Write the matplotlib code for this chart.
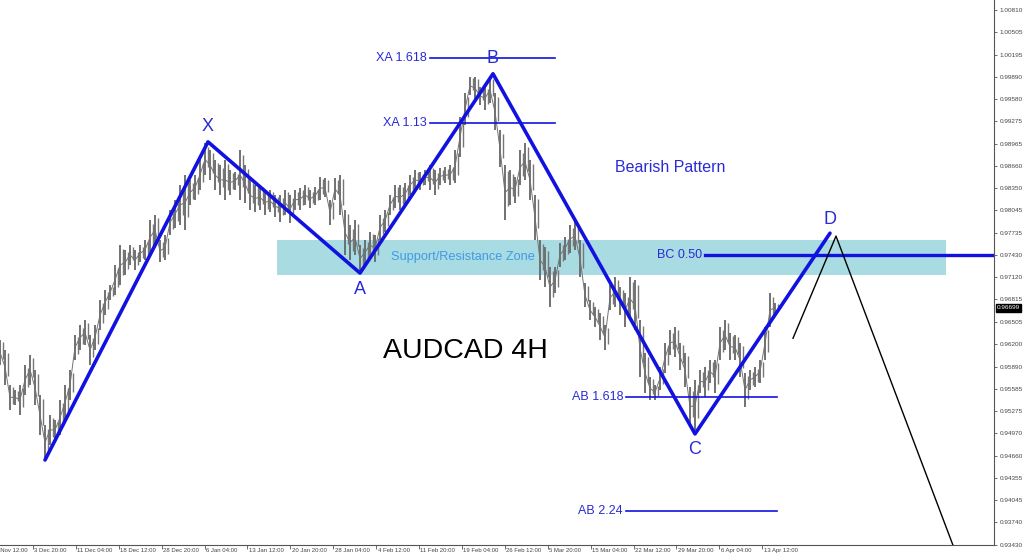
import numpy as np
import matplotlib
matplotlib.use("Agg")
import matplotlib.pyplot as plt
from matplotlib.transforms import blended_transform_factory

# ---------------- data ----------------
highs = [0.9626,0.9612,0.9564,0.9557,0.9564,0.9591,0.9605,0.9584,0.9550,0.9508,
         0.9522,0.9515,0.9543,0.9564,0.9584,0.9633,0.9646,0.9653,0.9633,0.9646,
         0.9681,0.9695,0.9701,0.9729,0.9757,0.9750,0.9757,0.9750,0.9757,0.9764,
         0.9791,0.9798,0.9764,0.9770,0.9805,0.9819,0.9840,0.9853,0.9846,0.9853,
         0.9874,0.9897,0.9888,0.9874,0.9867,0.9874,0.9860,0.9857,0.9888,0.9867,
         0.9846,0.9840,0.9840,0.9833,0.9833,0.9826,0.9826,0.9833,0.9826,0.9833,
         0.9835,0.9840,0.9833,0.9837,0.9851,0.9849,0.9819,0.9849,0.9853,0.9805,
         0.9784,0.9791,0.9757,0.9764,0.9775,0.9770,0.9798,0.9805,0.9826,0.9840,
         0.9840,0.9842,0.9853,0.9860,0.9857,0.9860,0.9867,0.9860,0.9863,0.9864,
         0.9867,0.9888,0.9933,0.9966,0.9989,0.9989,0.9975,0.9975,0.9989,0.9966,
         0.9915,0.9867,0.9860,0.9851,0.9888,0.9897,0.9874,0.9826,0.9764,0.9754,
         0.9726,0.9726,0.9760,0.9768,0.9784,0.9788,0.9764,0.9704,0.9681,0.9671,
         0.9663,0.9646,0.9701,0.9712,0.9699,0.9690,0.9712,0.9708,0.9653,0.9608,
         0.9575,0.9564,0.9588,0.9622,0.9639,0.9644,0.9622,0.9608,0.9561,0.9570,
         0.9584,0.9588,0.9598,0.9598,0.9644,0.9653,0.9635,0.9633,0.9622,0.9580,
         0.9584,0.9588,0.9598,0.9644,0.9690,0.9677]
lows = [0.9591,0.9564,0.9529,0.9536,0.9522,0.9550,0.9564,0.9536,0.9494,0.9460,
        0.9481,0.9488,0.9494,0.9515,0.9543,0.9598,0.9612,0.9619,0.9591,0.9612,
        0.9639,0.9660,0.9681,0.9688,0.9701,0.9715,0.9729,0.9722,0.9733,0.9736,
        0.9743,0.9757,0.9733,0.9736,0.9770,0.9780,0.9784,0.9777,0.9812,0.9819,
        0.9833,0.9853,0.9846,0.9833,0.9826,0.9819,0.9826,0.9833,0.9819,0.9815,
        0.9805,0.9802,0.9805,0.9798,0.9802,0.9795,0.9788,0.9798,0.9787,0.9805,
        0.9805,0.9812,0.9808,0.9812,0.9819,0.9823,0.9784,0.9819,0.9798,0.9743,
        0.9736,0.9743,0.9719,0.9729,0.9739,0.9733,0.9764,0.9775,0.9798,0.9808,
        0.9805,0.9812,0.9826,0.9833,0.9833,0.9840,0.9833,0.9826,0.9840,0.9842,
        0.9840,0.9842,0.9878,0.9922,0.9964,0.9957,0.9950,0.9943,0.9953,0.9915,
        0.9864,0.9791,0.9812,0.9815,0.9840,0.9846,0.9819,0.9764,0.9708,0.9699,
        0.9671,0.9690,0.9726,0.9736,0.9746,0.9750,0.9712,0.9671,0.9653,0.9644,
        0.9626,0.9612,0.9667,0.9671,0.9660,0.9644,0.9653,0.9639,0.9575,0.9553,
        0.9543,0.9543,0.9557,0.9580,0.9605,0.9602,0.9584,0.9561,0.9506,0.9501,
        0.9553,0.9547,0.9566,0.9553,0.9598,0.9612,0.9598,0.9598,0.9575,0.9533,
        0.9557,0.9561,0.9566,0.9598,0.9644,0.9663]
last_price = 0.96699

# harmonic pattern points (start, X, A, B, C, D)
pattern_labels = ["", "X", "A", "B", "C", "D"]
pattern_x = [45, 208, 360, 493, 695, 830]
pattern_y = [0.9460, 0.9899, 0.9718, 0.9993, 0.9496, 0.9773]

# projected path (black)
proj_x = [793, 836, 955]
proj_y = [0.9628, 0.9769, 0.9335]

# fib levels: label, price, x-start, x-end
fib_labels = ["XA 1.618", "XA 1.13", "BC 0.50", "AB 1.618", "AB 2.24"]
fib_prices = [1.0015, 0.9925, 0.9743, 0.9547, 0.9390]
fib_x0 = [430, 430, 705, 626, 626]
fib_x1 = [555, 555, 994, 777, 777]

zone_low, zone_high = 0.9715, 0.9764

y_ticks = [1.00810, 1.00505, 1.00195, 0.99890, 0.99580, 0.99275, 0.98965, 0.98660,
           0.98350, 0.98045, 0.97735, 0.97430, 0.97120, 0.96815, 0.96505, 0.96200,
           0.95890, 0.95585, 0.95275, 0.94970, 0.94660, 0.94355, 0.94045, 0.93740,
           0.93430]
x_labels = ["26 Nov 12:00", "3 Dec 20:00", "11 Dec 04:00", "18 Dec 12:00",
            "28 Dec 20:00", "6 Jan 04:00", "13 Jan 12:00", "20 Jan 20:00",
            "28 Jan 04:00", "4 Feb 12:00", "11 Feb 20:00", "19 Feb 04:00",
            "26 Feb 12:00", "5 Mar 20:00", "15 Mar 04:00", "22 Mar 12:00",
            "29 Mar 20:00", "6 Apr 04:00", "13 Apr 12:00"]

# ---------------- plot ----------------
W, H = 1024, 556
fig = plt.figure(figsize=(W / 100, H / 100), dpi=100)
ax = fig.add_axes([0, 11 / H, 994 / W, 545 / H])
ax.set_xlim(0, 994)
ax.set_ylim(0.93427, 1.00948)

blue = "#1212e0"
lbl_blue = "#2a2ad6"
tickfont = "Liberation Sans"

# support/resistance zone
ax.axhspan(zone_low, zone_high, xmin=277 / 994, xmax=946 / 994,
           color="#a9dbe3", lw=0, zorder=1)
ax.text(463, (zone_low + zone_high) / 2, "Support/Resistance Zone", color="#3f9be6",
        fontsize=9.2, family="Liberation Sans", ha="center", va="center", zorder=2)

# price bars
px = np.arange(len(highs)) * 5.0
hi = np.array(highs)
lo = np.array(lows)
ax.vlines(px, lo, hi, color="#666666", lw=1.3, zorder=3)
ax.vlines(px + 2.5, lo + (hi - lo) * 0.25, hi - (hi - lo) * 0.1, color="#777777", lw=1.0, zorder=3)
ax.plot(px, (hi + lo) / 2, color="#727272", lw=0.7, zorder=3)

# pattern
ax.plot(pattern_x, pattern_y, color=blue, lw=2.6, zorder=5, solid_joinstyle="round",
        solid_capstyle="round")
offsets = {"X": 11, "A": -12, "B": 11, "C": -11, "D": 10}
for lab, xx, yy in zip(pattern_labels, pattern_x, pattern_y):
    if lab:
        ax.annotate(lab, (xx, yy), xytext=(0, offsets[lab]), textcoords="offset points",
                    color=lbl_blue, fontsize=13, family="Liberation Sans",
                    ha="center", va="center", zorder=6)

# projection
ax.plot(proj_x, proj_y, color="black", lw=1.0, zorder=5)

# fib levels
for lab, p, x0, x1 in zip(fib_labels, fib_prices, fib_x0, fib_x1):
    lw = 2.4 if lab == "BC 0.50" else 1.2
    ax.plot([x0, x1], [p, p], color=blue, lw=lw, zorder=4)
    ax.text(x0 - 3, p, lab, color=lbl_blue, fontsize=9, family="Liberation Sans",
            ha="right", va="center", zorder=6)

ax.text(670, 0.9863, "Bearish Pattern", color=lbl_blue, fontsize=11.5,
        family="Liberation Sans", ha="center", va="center", zorder=6)
ax.text(465, 0.9610, "AUDCAD 4H", color="black", fontsize=20.5,
        family="Liberation Sans", ha="center", va="center", zorder=6)

# axes styling
for s in ["top", "left"]:
    ax.spines[s].set_visible(False)
ax.spines["right"].set_color("#555555")
ax.spines["bottom"].set_color("#555555")
ax.spines["right"].set_linewidth(0.8)
ax.spines["bottom"].set_linewidth(0.8)
ax.yaxis.tick_right()
ax.set_yticks(y_ticks)
ax.set_yticklabels([f"{v:.5f}" for v in y_ticks], family=tickfont)
ax.tick_params(axis="y", direction="out", length=2.5, width=0.6, colors="#555555",
               labelsize=4.6, labelcolor="#444444", pad=1.5)

x_pos = [-10 + 42.9 * i for i in range(len(x_labels))]
ax.set_xticks(x_pos[1:])
ax.set_xticklabels([])
ax.tick_params(axis="x", direction="out", length=3, width=0.6, colors="#555555")
trans = blended_transform_factory(ax.transData, ax.transAxes)
for xx, lab in zip(x_pos, x_labels):
    t = ax.text(xx + 1.5, -0.006, lab, transform=trans, fontsize=4.3, color="#444444",
                family=tickfont, ha="left", va="top")
    t.set_clip_on(True)
    t.set_clip_box(fig.bbox)

ax.annotate(f"{last_price:.5f}", (1.0, last_price), xycoords=("axes fraction", "data"),
            xytext=(2.2, 0), textcoords="offset points", fontsize=4.6, color="white",
            family=tickfont, ha="left", va="center",
            bbox=dict(boxstyle="square,pad=0.2", fc="black", ec="black"))

fig.savefig("out.png", dpi=100)
